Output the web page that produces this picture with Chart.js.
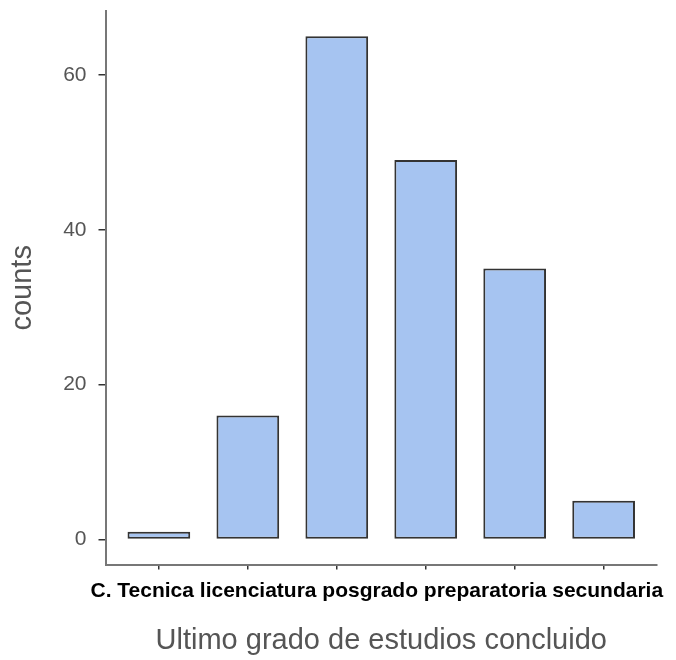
<!DOCTYPE html>
<html><head><meta charset="utf-8">
<script src="https://cdn.jsdelivr.net/npm/chart.js@4.4.1/dist/chart.umd.min.js"></script>
<style>html,body{margin:0;padding:0;background:#fff;}</style>
</head><body>
<canvas id="c" width="676" height="660" style="display:block;width:676px;height:660px"></canvas>
<script>
const categories = ["", "C. Tecnica", "licenciatura", "posgrado", "preparatoria", "secundaria"];
const counts = [1, 16, 65, 49, 35, 5];
const yTicks = [0, 20, 40, 60];
const xTitle = "Ultimo grado de estudios concluido";
const yTitle = "counts";
const xLabelLine = categories.filter(Boolean).join(" ");

const FONT = "'Liberation Sans', Arial, sans-serif";

function noPad(s) { s.paddingTop = 0; s.paddingBottom = 0; s.paddingLeft = 0; s.paddingRight = 0; }

new Chart(document.getElementById('c'), {
  type: 'bar',
  data: {
    labels: categories,
    datasets: [{
      label: yTitle,
      data: counts.map((v, i) => ({ x: i + 1, y: v })),
      backgroundColor: '#A6C4F1',
      borderColor: '#333333',
      borderWidth: 2,
      borderSkipped: false,
      barPercentage: 0.705,
      categoryPercentage: 1
    }]
  },
  options: {
    responsive: false,
    animation: false,
    devicePixelRatio: 1,
    layout: { padding: { left: 0, right: 19, top: 11, bottom: 2 } },
    plugins: {
      legend: { display: false },
      tooltip: { enabled: false },
      title: {
        display: true, position: 'bottom', fullSize: false, text: xTitle, color: '#555555',
        font: { family: FONT, size: 29, weight: 'normal', lineHeight: 1.2 }, padding: 0
      }
    },
    scales: {
      x: {
        type: 'linear', min: 0.4, max: 6.6, offset: false, position: 'bottom',
        grid: { display: true, offset: false, drawOnChartArea: false, drawTicks: true, tickLength: 5, color: '#333333', lineWidth: 1.5 },
        border: { display: true, color: '#777777', width: 2 },
        ticks: { display: false },
        afterBuildTicks: s => { s.ticks = categories.map((_, i) => ({ value: i + 1 })); },
        afterFit: s => { s.height = 15; noPad(s); }
      },
      x2: {
        type: 'linear', min: 0.4, max: 6.6, offset: false, position: 'bottom',
        grid: { display: false },
        border: { display: false },
        ticks: {
          display: true, color: '#000000', font: { family: FONT, size: 21, weight: 'bold', lineHeight: 1.2 },
          padding: -8.6, maxRotation: 0, minRotation: 0, autoSkip: false,
          callback: () => xLabelLine
        },
        afterBuildTicks: s => { s.ticks = [{ value: (s.min + s.max) / 2 - 0.05 }]; },
        afterFit: s => { s.height = 43.6; noPad(s); }
      },
      y: {
        type: 'linear', min: -3.25, max: 68.25, beginAtZero: false,
        grid: { display: true, drawOnChartArea: false, drawTicks: true, tickLength: 7, color: '#333333', lineWidth: 1.5 },
        border: { display: true, color: '#777777', width: 2 },
        ticks: { color: '#555555', font: { family: FONT, size: 21 }, padding: 12 },
        afterBuildTicks: s => { s.ticks = yTicks.map(v => ({ value: v })); },
        title: { display: true, text: yTitle, color: '#555555', font: { family: FONT, size: 29, lineHeight: 1.2 }, padding: { top: 5.6, bottom: 0 } },
        afterFit: s => { s.width = 105.5; noPad(s); }
      }
    }
  }
});
</script>
</body></html>
